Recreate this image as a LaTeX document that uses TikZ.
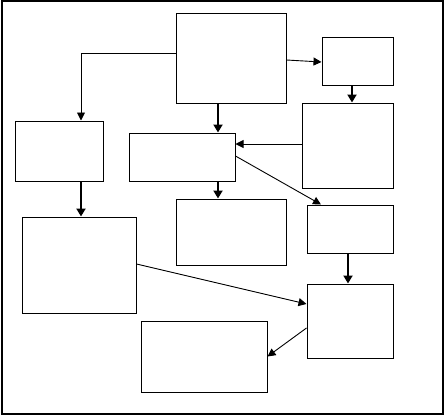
\documentclass[tikz,border=0pt]{standalone}
\usetikzlibrary{arrows.meta}
\begin{document}
\begin{tikzpicture}[x=1pt,y=-1pt,
  box/.style={draw,line width=1pt,rectangle,inner sep=0pt},
  thin arrow/.style={line width=0.9pt,-{Triangle[length=8pt,width=8pt]}},
  thick arrow/.style={line width=2pt,-{Triangle[length=8pt,width=9pt]}}]
\useasboundingbox (0,0) rectangle (444,415);
\draw[line width=1.3pt] (2,1) rectangle (443,414);
\node[box,minimum width=110pt,minimum height=90pt] (A) at (231,58) {};
\node[box,minimum width=71pt,minimum height=48pt] (B) at (357.5,61) {};
\node[box,minimum width=91pt,minimum height=85pt] (C) at (347.5,145.5) {};
\node[box,minimum width=88pt,minimum height=60pt] (D) at (59,151) {};
\node[box,minimum width=106pt,minimum height=48pt] (E) at (182,157) {};
\node[box,minimum width=110pt,minimum height=66pt] (F) at (231,232) {};
\node[box,minimum width=86pt,minimum height=48pt] (G) at (350,229) {};
\node[box,minimum width=114pt,minimum height=96pt] (H) at (79,265) {};
\node[box,minimum width=86pt,minimum height=74pt] (I) at (350,321) {};
\node[box,minimum width=126pt,minimum height=71pt] (J) at (204,356.5) {};
% connectors
\draw[thin arrow] ([yshift=5pt]A.west) -| ([xshift=22pt]D.north);
\draw[thin arrow] ([yshift=-2pt]A.east) -- ([yshift=-1pt]B.west);
\draw[thick arrow] ([xshift=-5.5pt]B.south) -- ([xshift=-5.5pt]B.south |- C.north);
\draw[thick arrow] ([xshift=-13pt]A.south) -- ([xshift=-13pt]A.south |- E.north);
\draw[thin arrow] ([yshift=1.5pt]C.west) -- ([yshift=1.5pt]C.west -| E.east);
\draw[thin arrow] ([yshift=1pt]E.east) -- ([xshift=-29pt]G.north);
\draw[thick arrow] ([xshift=36pt]E.south) -- ([xshift=36pt]E.south |- F.north);
\draw[thick arrow] ([xshift=22pt]D.south) -- ([xshift=22pt]D.south |- H.north);
\draw[thin arrow] ([yshift=1pt]H.east) -- ([yshift=17pt]I.west);
\draw[thick arrow] ([xshift=-2pt]G.south) -- ([xshift=-2pt]G.south |- I.north);
\draw[thin arrow] ([yshift=-7pt]I.west) -- (J.east);
\end{tikzpicture}
\end{document}
